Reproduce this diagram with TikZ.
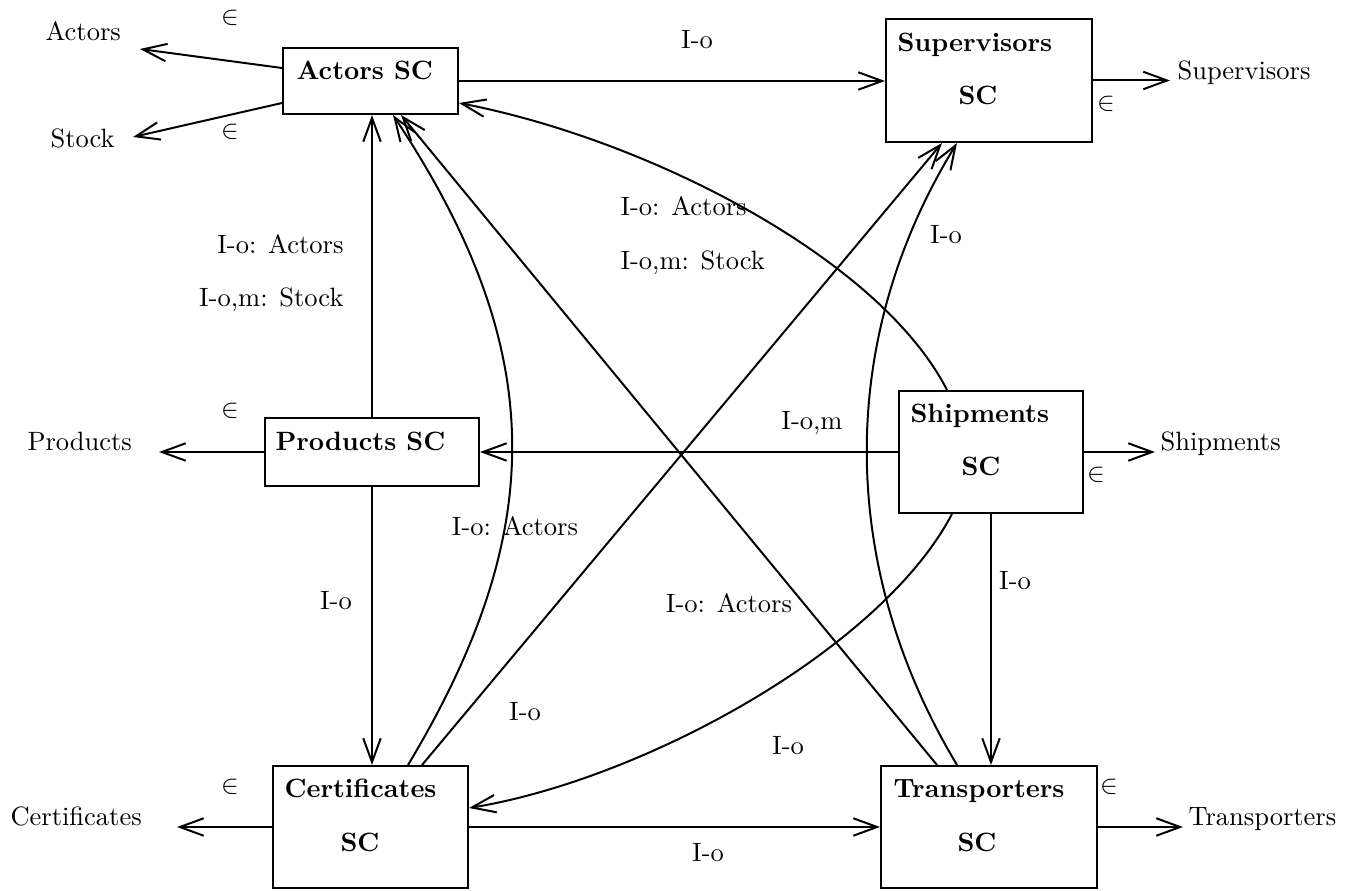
\documentclass[tikz,border=0pt]{standalone}
\usetikzlibrary{arrows.meta,calc}

\begin{document}
\begin{tikzpicture}[x=0.3774pt, y=-0.3774pt,
  box/.style={draw, line width=0.75pt, inner sep=0pt},
  sz/.style 2 args={minimum width=#1*0.3774pt, minimum height=#2*0.3774pt},
  arr/.style={line width=0.75pt, -{Straight Barb[length=9pt,width=6.6pt,line width=0.75pt]}},
  txt/.style={inner sep=0pt, anchor=base west},
  ctxt/.style={inner sep=0pt, anchor=base},
  rtxt/.style={inner sep=0pt, anchor=base east},
  elem/.style={inner sep=0pt}]

\useasboundingbox (0,0) rectangle (1353,891);

% component boxes
\node[box, sz={175}{66}]  (AS)  at (370.5,81)  {};
\node[box, sz={206}{123}] (SS)  at (989,80.5)  {};
\node[box, sz={214}{68}]  (PS)  at (372,452)   {};
\node[box, sz={184}{122}] (ShS) at (991,452)   {};
\node[box, sz={195}{122}] (CS)  at (370.5,827) {};
\node[box, sz={216}{122}] (TS)  at (989,827)   {};

% box captions
\node[txt]  (ASt)  at (296,80)  {\textbf{Actors SC}};
\node[txt]  (SSt)  at (897,52)  {\textbf{Supervisors}};
\node[ctxt] (SSs)  at (978,105) {\textbf{SC}};
\node[txt]  (PSt)  at (275,451) {\textbf{Products SC}};
\node[txt]  (ShSt) at (910,423) {\textbf{Shipments}};
\node[ctxt] (ShSs) at (981,476) {\textbf{SC}};
\node[txt]  (CSt)  at (284,798) {\textbf{Certificates}};
\node[ctxt] (CSs)  at (360,851) {\textbf{SC}};
\node[txt]  (TSt)  at (893,798) {\textbf{Transporters}};
\node[ctxt] (TSs)  at (977,851) {\textbf{SC}};

% outer sets
\node[txt] (lActors) at (45,41)    {Actors};
\node[txt] (lStock)  at (50,148)   {Stock};
\node[txt] (lSup)    at (1177,80)  {Supervisors};
\node[txt] (lProd)   at (27,451)   {Products};
\node[txt] (lShip)   at (1160,451) {Shipments};
\node[txt] (lCert)   at (10,826)   {Certificates};
\node[txt] (lTrans)  at (1188,826) {Transporters};

\coordinate (tActors) at (140,49);
\coordinate (tStock)  at (133,137);
\coordinate (tSup)    at (1170,80.5);
\coordinate (tProd)   at (159,452);
\coordinate (tShip)   at (1155,452);
\coordinate (tCert)   at (177,827);
\coordinate (tTrans)  at (1183,827);

% membership marks
\node[elem] (e1) at (230,18)   {$\in$};
\node[elem] (e2) at (230,132)  {$\in$};
\node[elem] (e3) at (1106,104) {$\in$};
\node[elem] (e4) at (230,411)  {$\in$};
\node[elem] (e5) at (1096,475) {$\in$};
\node[elem] (e6) at (230,787)  {$\in$};
\node[elem] (e7) at (1109,787) {$\in$};

% arrows to the outer sets
\draw[arr] ($(AS.west)+(0,-13)$) -- (tActors);
\draw[arr] ($(AS.west)+(0,22)$) -- (tStock);
\draw[arr] (SS.east) -- (tSup);
\draw[arr] (PS.west) -- (tProd);
\draw[arr] (ShS.east) -- (tShip);
\draw[arr] (CS.west) -- (tCert);
\draw[arr] (TS.east) -- (tTrans);

% connections between components
\draw[arr] (AS.east) -- (AS.east -| SS.west);
\draw[arr] ($(ShS.north)+(-44,0)$) .. controls +(-67,-131) and +(191,37) .. ($(AS.east)+(0,22)$);
\draw[arr] (PS.north) -- (PS.north |- AS.south);
\draw[arr] ($(CS.north)+(37.5,0)$) .. controls +(141,-235) and +(156,235) .. ($(AS.south)+(22.5,0)$);
\draw[arr] ($(CS.north)+(51.5,0)$) -- ($(SS.south)+(-47,0)$);
\draw[arr] ($(TS.north)+(-52,0)$) -- ($(AS.south)+(30.5,0)$);
\draw[arr] ($(TS.north)+(-32,0)$) .. controls +(-120,-200) and +(-120,195) .. ($(SS.south)+(-32,0)$);
\draw[arr] (ShS.west) -- (PS.east);
\draw[arr] ($(ShS.south)+(-39,0)$) .. controls +(-72,137) and +(172,-28) .. ($(CS.east)+(0,-19)$);
\draw[arr] (ShS.south) -- (ShS.south |- TS.north);
\draw[arr] (PS.south) -- (PS.south |- CS.north);
\draw[arr] (CS.east) -- (TS.west);

% connection labels
\node[ctxt] (k1)  at (697,49)   {I-o};
\node[txt]  (k2)  at (620,216)  {I-o: Actors};
\node[txt]  (k3)  at (620,270)  {I-o,m: Stock};
\node[rtxt] (k4)  at (344,254)  {I-o: Actors};
\node[rtxt] (k5)  at (344,307)  {I-o,m: Stock};
\node[ctxt] (k6)  at (946,244)  {I-o};
\node[ctxt] (k7)  at (812,430)  {I-o,m};
\node[ctxt] (k8)  at (515,536)  {I-o: Actors};
\node[ctxt] (k9)  at (336,610)  {I-o};
\node[ctxt] (k10) at (1015,590) {I-o};
\node[ctxt] (k11) at (729,613)  {I-o: Actors};
\node[ctxt] (k12) at (525,721)  {I-o};
\node[ctxt] (k13) at (788,754)  {I-o};
\node[ctxt] (k14) at (708,861)  {I-o};

\end{tikzpicture}
\end{document}
